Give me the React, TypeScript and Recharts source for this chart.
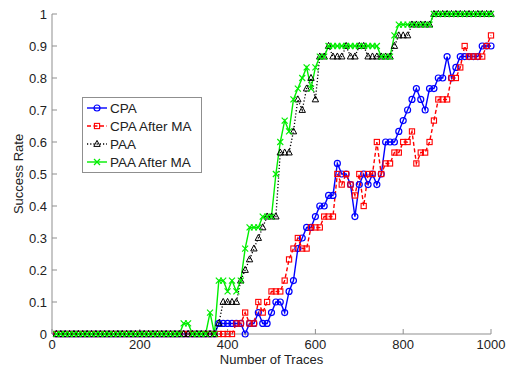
import React from "react";
import {
  LineChart,
  Line,
  XAxis,
  YAxis,
  Legend,
} from "recharts";

const traces = [
  10, 20, 30, 40, 50, 60, 70, 80, 90, 100, 110, 120, 130, 140, 150, 160, 170, 180, 190, 200,
  210, 220, 230, 240, 250, 260, 270, 280, 290, 300, 310, 320, 330, 340, 350, 360, 370, 380, 390, 400,
  410, 420, 430, 440, 450, 460, 470, 480, 490, 500, 510, 520, 530, 540, 550, 560, 570, 580, 590, 600,
  610, 620, 630, 640, 650, 660, 670, 680, 690, 700, 710, 720, 730, 740, 750, 760, 770, 780, 790, 800,
  810, 820, 830, 840, 850, 860, 870, 880, 890, 900, 910, 920, 930, 940, 950, 960, 970, 980, 990, 1000,
];

const cpa = [
  0, 0, 0, 0, 0, 0, 0, 0, 0, 0, 0, 0, 0, 0, 0, 0, 0, 0, 0, 0,
  0, 0, 0, 0, 0, 0, 0, 0, 0, 0, 0, 0, 0, 0, 0, 0, 0,
  0.033, 0.033, 0.033, 0.033, 0.033, 0.033, 0, 0.033, 0.033, 0.067,
  0.033, 0.033, 0.067, 0.1, 0.1, 0.067, 0.133, 0.167, 0.267, 0.3,
  0.333, 0.333, 0.367, 0.4, 0.4, 0.433, 0.433, 0.533, 0.5, 0.5,
  0.467, 0.367, 0.467, 0.5, 0.467, 0.5, 0.467, 0.5, 0.6, 0.6,
  0.6, 0.633, 0.667, 0.7, 0.733, 0.767, 0.733, 0.7, 0.767, 0.767,
  0.8, 0.8, 0.867, 0.8, 0.833, 0.867, 0.867, 0.867, 0.867, 0.867,
  0.9, 0.9, 0.9,
];

const cpaAfterMa = [
  0, 0, 0, 0, 0, 0, 0, 0, 0, 0, 0, 0, 0, 0, 0, 0, 0, 0, 0, 0,
  0, 0, 0, 0, 0, 0, 0, 0, 0, 0, 0, 0, 0, 0, 0, 0, 0, 0, 0, 0, 0,
  0.033, 0.033, 0.067, 0.033, 0.033, 0.1, 0.067, 0.1, 0.133, 0.133,
  0.133, 0.167, 0.233, 0.267, 0.3, 0.267, 0.267, 0.333, 0.333, 0.333,
  0.367, 0.367, 0.367, 0.5, 0.467, 0.5, 0.467, 0.433, 0.5, 0.4,
  0.5, 0.5, 0.6, 0.5, 0.533, 0.533, 0.567, 0.567, 0.6, 0.6,
  0.633, 0.533, 0.567, 0.567, 0.6, 0.667, 0.733, 0.733, 0.733, 0.8,
  0.8, 0.833, 0.9, 0.867, 0.867, 0.867, 0.867, 0.9, 0.933,
];

const paa = [
  0, 0, 0, 0, 0, 0, 0, 0, 0, 0, 0, 0, 0, 0, 0, 0, 0, 0, 0, 0,
  0, 0, 0, 0, 0, 0, 0, 0, 0, 0, 0, 0, 0, 0, 0, 0, 0,
  0.033, 0.1, 0.1, 0.1, 0.1, 0.167, 0.2, 0.233, 0.267, 0.3,
  0.333, 0.367, 0.367, 0.367, 0.567, 0.567, 0.567, 0.633, 0.733, 0.7,
  0.767, 0.8, 0.733, 0.867, 0.867, 0.9, 0.867, 0.867, 0.867, 0.9,
  0.867, 0.867, 0.9, 0.9, 0.867, 0.867, 0.867, 0.867, 0.867, 0.867,
  0.9, 0.933, 0.933, 0.933, 0.967, 0.967, 0.967, 0.967, 0.967, 1,
  1, 1, 1, 1, 1, 1, 1, 1, 1, 1, 1, 1, 1,
];

const paaAfterMa = [
  0, 0, 0, 0, 0, 0, 0, 0, 0, 0, 0, 0, 0, 0, 0, 0, 0, 0, 0, 0,
  0, 0, 0, 0, 0, 0, 0, 0, 0, 0.033, 0.033, 0, 0, 0, 0, 0.067, 0,
  0.167, 0.167, 0.133, 0.167, 0.133, 0.167, 0.267, 0.333, 0.333, 0.333,
  0.367, 0.367, 0.367, 0.5, 0.6, 0.667, 0.633, 0.733, 0.767, 0.8,
  0.833, 0.767, 0.833, 0.867, 0.867, 0.9, 0.9, 0.9, 0.9, 0.9,
  0.9, 0.9, 0.9, 0.9, 0.9, 0.9, 0.9, 0.867, 0.867, 0.867,
  0.933, 0.967, 0.967, 0.967, 0.967, 0.967, 0.967, 0.967, 0.967, 1,
  1, 1, 1, 1, 1, 1, 1, 1, 1, 1, 1, 1, 1,
];

const xTicks = [0, 200, 400, 600, 800, 1000];
const yTicks = [0, 0.1, 0.2, 0.3, 0.4, 0.5, 0.6, 0.7, 0.8, 0.9, 1];

const AXIS = "#8f8f8f";
const INK = "#222";
const FONT = '"Liberation Sans", Arial, sans-serif';

const data = traces.map((t, i) => ({
  trace: t,
  cpa: cpa[i],
  cpaMa: cpaAfterMa[i],
  paa: paa[i],
  paaMa: paaAfterMa[i],
}));

// marker shapes, MATLAB style
const circleMark = (cx: number, cy: number, key?: string) => (
  <circle key={key} cx={cx} cy={cy} r={3} fill="none" stroke="#0000ff" strokeWidth={1.2} />
);
const squareMark = (cx: number, cy: number, key?: string) => (
  <rect key={key} x={cx - 2.6} y={cy - 2.6} width={5.2} height={5.2} fill="none" stroke="#ff0000" strokeWidth={1.1} />
);
const triangleMark = (cx: number, cy: number, key?: string) => (
  <path
    key={key}
    d={`M${cx},${cy - 3.6} L${cx + 3.2},${cy + 2.4} L${cx - 3.2},${cy + 2.4} Z`}
    fill="none"
    stroke="#000"
    strokeWidth={1}
  />
);
const crossMark = (cx: number, cy: number, key?: string) => (
  <g key={key} stroke="#00ee00" strokeWidth={1.2}>
    <line x1={cx - 3} y1={cy - 3} x2={cx + 3} y2={cy + 3} />
    <line x1={cx - 3} y1={cy + 3} x2={cx + 3} y2={cy - 3} />
  </g>
);

const legendRows = [
  { name: "CPA", color: "#0000ff", dash: undefined, mark: circleMark },
  { name: "CPA After MA", color: "#ff0000", dash: "4 2.5", mark: squareMark },
  { name: "PAA", color: "#000", dash: "1.2 2", mark: triangleMark },
  { name: "PAA After MA", color: "#00ee00", dash: undefined, mark: crossMark },
];

function LegendBox() {
  return (
    <svg width={120} height={76} style={{ display: "block" }}>
      <rect x={0.5} y={0.5} width={119} height={75} fill="#fff" stroke={AXIS} />
      {legendRows.map((r, i) => {
        const y = 11 + i * 18;
        return (
          <g key={r.name}>
            <line x1={5} x2={25} y1={y} y2={y} stroke={r.color} strokeWidth={1.4} strokeDasharray={r.dash} />
            {r.mark(15, y)}
            <text x={28} y={y + 5} fontSize={13.5} fontFamily={FONT} fill={INK}>
              {r.name}
            </text>
          </g>
        );
      })}
    </svg>
  );
}

export default function App() {
  return (
    <div style={{ position: "absolute", left: 0, top: 0, width: 509, height: 368, background: "#fff", fontFamily: FONT }}>
      <LineChart width={509} height={368} data={data} margin={{ top: 14, right: 18, bottom: 2, left: 10 }}>
        <XAxis
          dataKey="trace"
          type="number"
          domain={[0, 1000]}
          ticks={xTicks}
          height={32}
          stroke={AXIS}
          tickSize={-5}
          tickMargin={11}
          tick={{ fill: INK, fontSize: 13, fontFamily: FONT }}
          label={{ value: "Number of Traces", position: "insideBottom", offset: 2, fill: INK, fontSize: 13, fontFamily: FONT }}
        />
        <XAxis
          xAxisId="top"
          orientation="top"
          type="number"
          domain={[0, 1000]}
          ticks={xTicks}
          height={0}
          stroke={AXIS}
          tickSize={-5}
          tick={false}
        />
        <YAxis
          type="number"
          domain={[0, 1]}
          ticks={yTicks}
          width={42}
          stroke={AXIS}
          tickSize={-5}
          tickMargin={10}
          tick={{ fill: INK, fontSize: 13, fontFamily: FONT }}
          label={{ value: "Success Rate", angle: -90, position: "insideLeft", offset: 8, fill: INK, fontSize: 13, fontFamily: FONT, style: { textAnchor: "middle" } }}
        />
        <YAxis
          yAxisId="right"
          orientation="right"
          type="number"
          domain={[0, 1]}
          ticks={yTicks}
          width={0}
          stroke={AXIS}
          tickSize={-5}
          tick={false}
        />
        <Line
          dataKey="cpa"
          name="CPA"
          stroke="#0000ff"
          strokeWidth={1.4}
          isAnimationActive={false}
          dot={(p: any) => circleMark(p.cx, p.cy, `c${p.index}`)}
          activeDot={false}
        />
        <Line
          dataKey="cpaMa"
          name="CPA After MA"
          stroke="#ff0000"
          strokeWidth={1.4}
          strokeDasharray="4 2.5"
          isAnimationActive={false}
          dot={(p: any) => squareMark(p.cx, p.cy, `s${p.index}`)}
          activeDot={false}
        />
        <Line
          dataKey="paa"
          name="PAA"
          stroke="#000"
          strokeWidth={1.3}
          strokeDasharray="1.2 2"
          isAnimationActive={false}
          dot={(p: any) => triangleMark(p.cx, p.cy, `t${p.index}`)}
          activeDot={false}
        />
        <Line
          dataKey="paaMa"
          name="PAA After MA"
          stroke="#00ee00"
          strokeWidth={1.4}
          isAnimationActive={false}
          dot={(p: any) => crossMark(p.cx, p.cy, `x${p.index}`)}
          activeDot={false}
        />
        <Legend
          layout="horizontal"
          verticalAlign="middle"
          align="center"
          wrapperStyle={{ left: 82, top: 97, width: 120, height: 76 }}
          content={() => <LegendBox />}
        />
      </LineChart>
    </div>
  );
}
